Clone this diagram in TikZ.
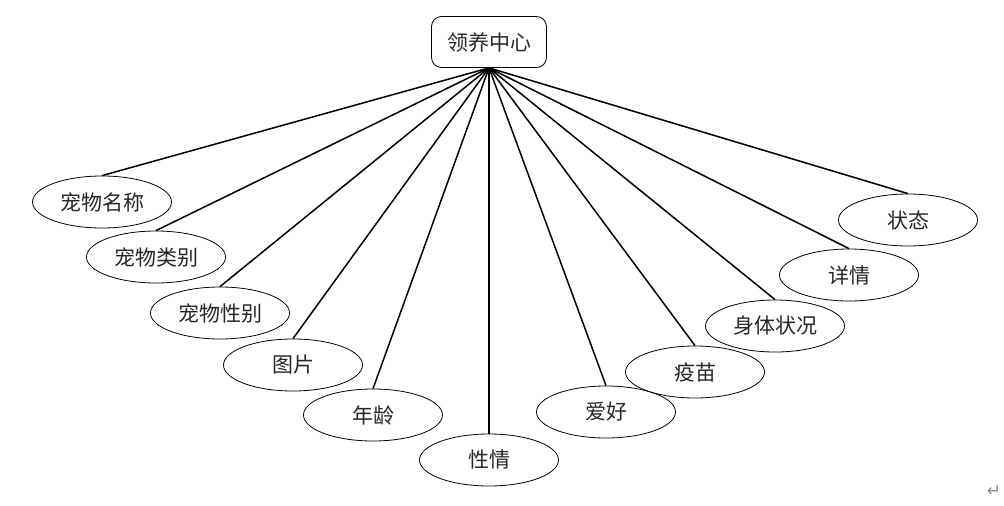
\documentclass[tikz,border=0pt]{standalone}
\usepackage{fontspec}
\newfontfamily\cjk{Noto Sans CJK SC}
\newfontfamily\symfont{DejaVu Sans}
\usetikzlibrary{shapes.geometric}
\tikzset{
  attr/.style={ellipse,draw,thick,minimum width=139pt,minimum height=52pt,inner sep=0pt,
    font=\cjk\fontsize{21}{24}\selectfont,text=black!85},
  entity/.style={rectangle,draw,thick,rounded corners=10pt,minimum width=115pt,minimum height=51pt,
    font=\cjk\fontsize{21}{24}\selectfont,text=black!85}
}
\begin{document}
\begin{tikzpicture}[x=1pt,y=-1pt,line width=1.5pt]
      \useasboundingbox (0,0) rectangle (1004,506);
      \draw
        (489,42) node[entity] (c){领养中心}
        (102,202) node[attr] (0){宠物名称}
        (156,257) node[attr] (1){宠物类别}
        (220,313) node[attr] (2){宠物性别}
        (293,365) node[attr] (3){图片}
        (373,415) node[attr] (4){年龄}
        (489,460) node[attr] (5){性情}
        (606,412) node[attr] (6){爱好}
        (695,372) node[attr] (7){疫苗}
        (775,326) node[attr] (8){身体状况}
        (849,275) node[attr] (9){详情}
        (908,220) node[attr] (10){状态};
      \node[text=black!45,font=\symfont\fontsize{17}{17}\selectfont] (r) at (994,491) {↵};
      \begin{scope}[-]
        \draw (c.south) to (0.north);
        \draw (c.south) to (1.north);
        \draw (c.south) to (2.north);
        \draw (c.south) to (3.north);
        \draw (c.south) to (4.north);
        \draw (c.south) to (5.north);
        \draw (c.south) to (6.north);
        \draw (c.south) to (7.north);
        \draw (c.south) to (8.north);
        \draw (c.south) to (9.north);
        \draw (c.south) to (10.north);
      \end{scope}
    \end{tikzpicture}
\end{document}
